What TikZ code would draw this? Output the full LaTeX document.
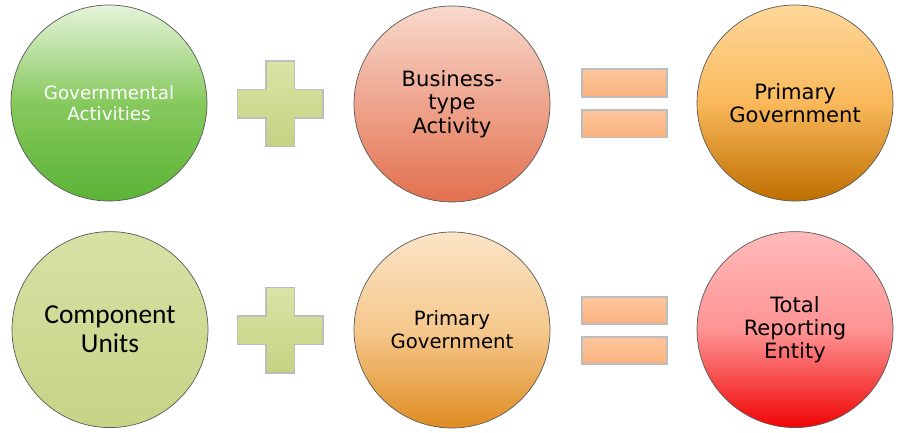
\documentclass[tikz,border=0pt]{standalone}
\usepackage{fontspec}
\setmainfont{DejaVu Sans}
\newfontfamily\calibrifont{Carlito}

\definecolor{govtop}{HTML}{E6F4DA}
\definecolor{govmid}{HTML}{86C95D}
\definecolor{govbot}{HTML}{5BB336}
\definecolor{bustop}{HTML}{F8D9CD}
\definecolor{busmid}{HTML}{EEA48C}
\definecolor{busbot}{HTML}{E2704E}
\definecolor{primtop}{HTML}{FFD89B}
\definecolor{primmid}{HTML}{F9B85A}
\definecolor{primbot}{HTML}{BE6E00}
\definecolor{comptop}{HTML}{D8E1A5}
\definecolor{compbot}{HTML}{C7D385}
\definecolor{pgtop}{HTML}{FBE4C6}
\definecolor{pgmid}{HTML}{F5C88C}
\definecolor{pgbot}{HTML}{DF8C22}
\definecolor{tottop}{HTML}{FFBABA}
\definecolor{totmid}{HTML}{FF9494}
\definecolor{totbot}{HTML}{F00404}
\definecolor{plustop}{HTML}{D9E4A6}
\definecolor{plusbot}{HTML}{C5D281}
\definecolor{eqtop}{HTML}{FDC69D}
\definecolor{eqbot}{HTML}{FBB27D}
\definecolor{signline}{HTML}{BDBDBD}

\begin{document}
\begin{tikzpicture}[
        bubble/.style={draw=black!65, line width=0.5pt, circle, minimum size=4.9cm,
            inner sep=0pt, align=center},
        verd/.style={font=\fontsize{15}{16.5}\selectfont},
        plussign/.style={draw=signline, line width=1.2pt, top color=plustop, bottom color=plusbot},
        eqbar/.style={draw=signline, line width=1.2pt, rectangle, minimum width=2.125cm,
            minimum height=0.685cm, inner sep=0pt, top color=eqtop, bottom color=eqbot}]
    \useasboundingbox (0, 0) rectangle (22.5, 10.8);

    % Top row
    \node[bubble, top color=govtop, bottom color=govbot, middle color=govmid,
        text=white, font=\fontsize{13}{14.5}\selectfont] at (2.725, 8.225) (gov) {Governmental\\Activities};
    \node[bubble, verd, top color=bustop, bottom color=busbot, middle color=busmid]
        at (11.3, 8.2) (bus) {Business-\\type\\Activity};
    \node[bubble, verd, top color=primtop, bottom color=primbot, middle color=primmid]
        at (19.875, 8.225) (prim) {Primary\\Government};

    % Bottom row
    \node[bubble, top color=comptop, bottom color=compbot,
        font=\calibrifont\fontsize{19.5}{20.5}\selectfont] at (2.75, 2.56) (comp) {Component\\Units};
    \node[bubble, top color=pgtop, bottom color=pgbot, middle color=pgmid,
        font=\fontsize{14}{16.5}\selectfont] at (11.3, 2.55) (pg) {Primary\\Government};
    \node[bubble, verd, top color=tottop, bottom color=totbot, middle color=totmid]
        at (19.875, 2.56) (total) {Total\\Reporting\\Entity};

    % Plus signs
    \foreach \py in {8.205, 2.54} {
        \draw[plussign, shift={(7.005, \py)}]
            (-0.355, 1.07) -- (0.355, 1.07) -- (0.355, 0.355) -- (1.07, 0.355)
            -- (1.07, -0.355) -- (0.355, -0.355) -- (0.355, -1.07) -- (-0.355, -1.07)
            -- (-0.355, -0.355) -- (-1.07, -0.355) -- (-1.07, 0.355) -- (-0.355, 0.355) -- cycle;
    }

    % Equals signs
    \node[eqbar] at (15.605, 8.725) (eqa1) {};
    \node[eqbar] at (15.605, 7.708) (eqa2) {};
    \node[eqbar] at (15.605, 3.04) (eqb1) {};
    \node[eqbar] at (15.605, 2.04) (eqb2) {};
\end{tikzpicture}
\end{document}
